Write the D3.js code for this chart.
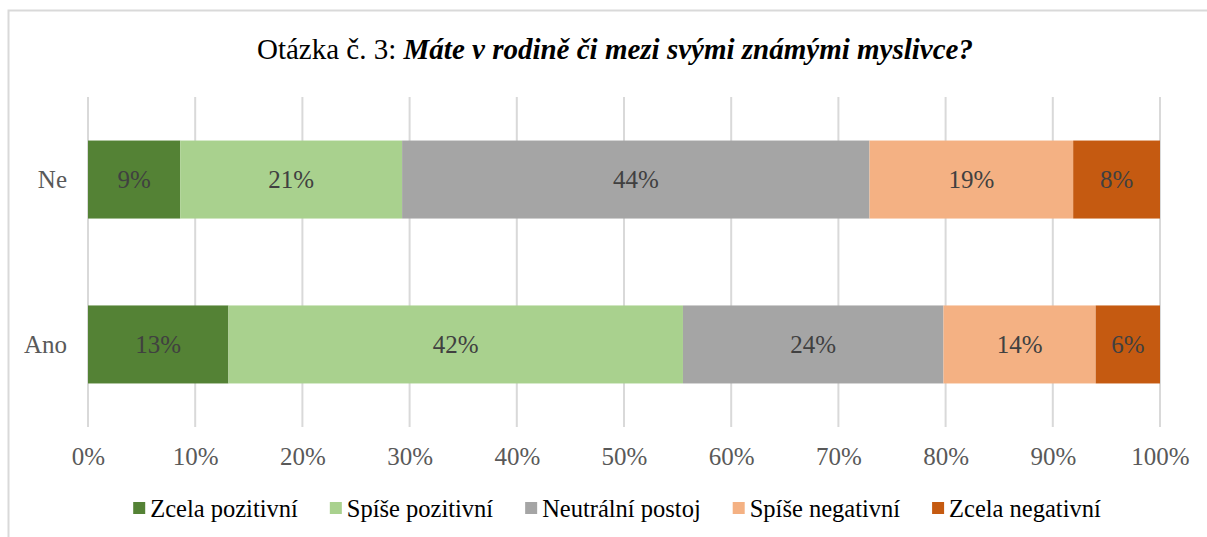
<!DOCTYPE html>
<html>
<head>
<meta charset="utf-8">
<script src="https://cdn.jsdelivr.net/npm/d3@7"></script>
<style>
  body { margin: 0; background: #fff; }
  svg { display: block; }
</style>
</head>
<body>
<svg id="chart" width="1207" height="537"></svg>
<script>
const categories = ['Ne', 'Ano'];
const seriesNames = ['Zcela pozitivní', 'Spíše pozitivní', 'Neutrální postoj', 'Spíše negativní', 'Zcela negativní'];
const seriesColors = ['#548235', '#a9d18e', '#a5a5a5', '#f4b183', '#c55a11'];
const valuesNe = [8.6, 20.7, 43.6, 19.0, 8.1];
const valuesAno = [13.1, 42.4, 24.3, 14.2, 6.0];
const labelsNe = ['9%', '21%', '44%', '19%', '8%'];
const labelsAno = ['13%', '42%', '24%', '14%', '6%'];
const tickValues = [0, 10, 20, 30, 40, 50, 60, 70, 80, 90, 100];

const rows = [
    { cat: 'Ne', values: valuesNe, labels: labelsNe },
    { cat: 'Ano', values: valuesAno, labels: labelsAno }
];

const font = '"Liberation Serif", "Times New Roman", serif';
const fontSize = 25;
const svg = d3.select('#chart');

// outer frame (top + left only)
svg.append('path')
    .attr('d', 'M8.5,537 V10.5 H1207')
    .attr('fill', 'none')
    .attr('stroke', '#d9d9d9')
    .attr('stroke-width', 2);

// title
const title = svg.append('text')
    .attr('x', 615)
    .attr('y', 59)
    .attr('text-anchor', 'middle')
    .style('font-family', font)
    .style('font-size', '29px')
    .attr('fill', '#000');
title.append('tspan').text('Otázka č. 3: ');
title.append('tspan')
    .style('font-style', 'italic')
    .style('font-weight', 'bold')
    .text('Máte v rodině či mezi svými známými myslivce?');

const x = d3.scaleLinear().domain([0, 100]).range([88, 1160]);
const y = d3.scaleBand().domain(categories).range([97, 427])
    .paddingInner(0.527).paddingOuter(0.264);

// gridlines
svg.append('g')
    .selectAll('line')
    .data(tickValues)
    .join('line')
    .attr('x1', d => x(d))
    .attr('x2', d => x(d))
    .attr('y1', 97)
    .attr('y2', 427)
    .attr('stroke', '#d9d9d9')
    .attr('stroke-width', 2);

// tick labels
const xAxis = d3.axisBottom(x)
    .tickValues(tickValues)
    .tickFormat(d => d + '%')
    .tickSize(0)
    .tickPadding(0);
const gx = svg.append('g')
    .attr('transform', 'translate(0,447)')
    .call(xAxis);
gx.select('.domain').remove();
gx.selectAll('text')
    .style('font-family', font)
    .style('font-size', fontSize + 'px')
    .attr('fill', '#595959');

// category labels
svg.append('g')
    .selectAll('text')
    .data(categories)
    .join('text')
    .attr('x', 67)
    .attr('y', d => y(d) + y.bandwidth() / 2)
    .attr('dy', '0.35em')
    .attr('text-anchor', 'end')
    .style('font-family', font)
    .style('font-size', fontSize + 'px')
    .attr('fill', '#595959')
    .text(d => d);

// stacked segments
rows.forEach(row => {
    let acc = 0;
    const segs = row.values.map((v, i) => {
        const s = { x0: acc, x1: acc + v, i: i, label: row.labels[i] };
        acc += v;
        return s;
    });
    const g = svg.append('g');
    g.selectAll('rect')
        .data(segs)
        .join('rect')
        .attr('x', d => x(d.x0))
        .attr('y', y(row.cat))
        .attr('width', d => x(d.x1) - x(d.x0))
        .attr('height', y.bandwidth())
        .attr('fill', d => seriesColors[d.i]);
    g.selectAll('text')
        .data(segs)
        .join('text')
        .attr('x', d => (x(d.x0) + x(d.x1)) / 2)
        .attr('y', y(row.cat) + y.bandwidth() / 2)
        .attr('dy', '0.35em')
        .attr('text-anchor', 'middle')
        .style('font-family', font)
        .style('font-size', fontSize + 'px')
        .attr('fill', '#404040')
        .text(d => d.label);
});

// legend, laid out from measured text widths and centred
const legend = svg.append('g');
const items = seriesNames.map((name, i) => {
    const lg = legend.append('g');
    lg.append('rect')
        .attr('x', 0)
        .attr('y', -6)
        .attr('width', 12)
        .attr('height', 12)
        .attr('fill', seriesColors[i]);
    const t = lg.append('text')
        .attr('x', 17)
        .attr('y', 0)
        .attr('dy', '0.35em')
        .style('font-family', font)
        .style('font-size', '24.5px')
        .attr('fill', '#000')
        .text(name);
    return { g: lg, w: 17 + t.node().getComputedTextLength() };
});
const itemGap = 32;
const totalW = d3.sum(items, d => d.w) + itemGap * (items.length - 1);
let lx = 617 - totalW / 2;
items.forEach(it => {
    it.g.attr('transform', 'translate(' + lx + ',508)');
    lx += it.w + itemGap;
});
</script>
</body>
</html>
